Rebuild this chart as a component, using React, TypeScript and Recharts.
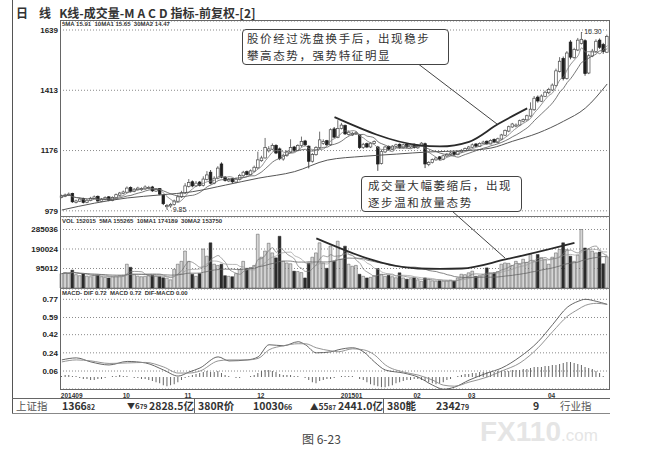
import React from 'react';
import { ComposedChart, Bar, Line, XAxis, YAxis, CartesianGrid, Cell, ReferenceDot } from 'recharts';

// daily bars, 2014-09 .. 2015-04 (prices in yuan)
const opens = [
  10.28, 10.32, 10.36, 10.42, 10.10, 10.14, 10.24, 10.10, 10.17, 10.24,
  10.32, 10.14, 10.21, 10.30, 10.17, 10.27, 10.36, 10.42, 10.47, 10.64,
  10.50, 10.56, 10.56, 10.59, 10.62, 10.66, 10.51, 10.60, 10.36, 9.94,
  9.97, 10.02, 10.14, 10.30, 10.44, 10.68, 10.85, 10.70, 10.84, 10.72,
  10.94, 11.20, 10.80, 10.98, 11.50, 11.02, 10.88, 10.96, 10.84, 10.94,
  11.07, 11.22, 11.11, 11.24, 11.36, 11.62, 11.72, 11.98, 12.04, 12.18,
  12.05, 11.68, 11.81, 11.94, 12.12, 11.99, 12.17, 12.34, 12.15, 11.60,
  11.84, 12.10, 12.25, 12.35, 12.20, 12.78, 12.47, 12.80, 12.90, 12.58,
  12.56, 12.60, 12.55, 12.10, 12.24, 12.12, 12.25, 12.12, 11.52, 11.94,
  12.14, 12.03, 12.14, 12.22, 12.09, 12.22, 12.12, 12.22, 12.09, 12.17,
  12.24, 11.48, 11.55, 11.65, 11.76, 11.67, 11.79, 11.85, 11.93, 11.84,
  11.94, 11.99, 12.05, 12.11, 12.23, 12.14, 12.24, 12.33, 12.23, 12.40,
  12.29, 12.41, 12.55, 12.70, 12.85, 12.88, 12.92, 13.06, 13.11, 13.25,
  13.48, 13.94, 13.79, 13.97, 14.10, 14.20, 14.36, 14.88, 15.35, 14.62,
  15.95, 15.38, 15.66, 15.90, 16.00, 14.82, 15.44, 15.60, 16.02, 15.86,
  15.58,
];
const highs = [
  10.38, 10.42, 10.46, 10.45, 10.20, 10.26, 10.27, 10.22, 10.30, 10.35,
  10.35, 10.26, 10.32, 10.33, 10.32, 10.42, 10.48, 10.53, 10.68, 10.68,
  10.62, 10.67, 10.65, 10.72, 10.70, 10.70, 10.62, 10.62, 10.40, 10.04,
  10.08, 10.20, 10.38, 10.52, 10.80, 10.95, 10.90, 10.88, 10.88, 11.05,
  11.24, 11.28, 11.05, 11.42, 11.56, 11.06, 10.99, 10.99, 11.00, 11.14,
  11.25, 11.26, 11.30, 11.44, 11.95, 11.80, 12.45, 12.15, 12.25, 12.22,
  12.10, 11.88, 12.00, 12.40, 12.16, 12.22, 12.50, 12.38, 12.18, 11.90,
  12.15, 12.68, 12.40, 12.38, 12.80, 12.85, 13.10, 13.00, 12.94, 12.72,
  12.68, 12.70, 12.58, 12.27, 12.28, 12.30, 12.36, 12.16, 12.00, 12.16,
  12.18, 12.19, 12.24, 12.25, 12.24, 12.25, 12.24, 12.25, 12.22, 12.30,
  12.28, 11.60, 11.70, 11.76, 11.79, 11.84, 11.90, 11.94, 11.96, 11.99,
  12.04, 12.10, 12.16, 12.25, 12.26, 12.29, 12.35, 12.36, 12.40, 12.43,
  12.46, 12.60, 12.76, 12.90, 13.00, 12.98, 13.12, 13.16, 13.30, 13.75,
  13.98, 14.00, 14.04, 14.18, 14.28, 14.44, 14.98, 15.40, 15.42, 15.62,
  16.02, 15.74, 16.10, 16.30, 16.05, 15.52, 15.70, 16.05, 16.08, 15.92,
  16.22,
];
const lows = [
  10.25, 10.29, 10.33, 10.08, 10.06, 10.11, 10.06, 10.07, 10.14, 10.21,
  10.12, 10.11, 10.18, 10.14, 10.14, 10.24, 10.33, 10.39, 10.44, 10.46,
  10.47, 10.53, 10.52, 10.56, 10.58, 10.48, 10.48, 10.36, 10.00, 9.85,
  9.90, 9.98, 10.10, 10.26, 10.40, 10.64, 10.65, 10.66, 10.68, 10.68,
  10.90, 10.76, 10.76, 10.94, 10.98, 10.86, 10.84, 10.80, 10.80, 10.90,
  11.03, 11.08, 11.08, 11.20, 11.32, 11.58, 11.70, 11.92, 12.00, 11.86,
  11.64, 11.62, 11.76, 11.90, 11.95, 11.96, 12.12, 12.16, 11.34, 11.55,
  11.80, 12.06, 12.20, 12.16, 12.16, 12.44, 12.44, 12.76, 12.56, 12.54,
  12.52, 12.56, 12.05, 12.05, 12.08, 12.08, 12.22, 11.25, 11.48, 11.90,
  12.00, 12.00, 12.10, 12.06, 12.06, 12.08, 12.08, 12.06, 12.05, 12.14,
  11.35, 11.42, 11.52, 11.62, 11.64, 11.64, 11.76, 11.82, 11.80, 11.82,
  11.91, 11.96, 12.02, 12.08, 12.12, 12.12, 12.22, 12.20, 12.22, 12.26,
  12.26, 12.38, 12.52, 12.66, 12.82, 12.84, 12.88, 13.02, 13.08, 13.22,
  13.44, 13.74, 13.76, 13.94, 14.05, 14.16, 14.32, 14.84, 14.55, 14.58,
  15.32, 15.34, 15.62, 15.86, 14.72, 14.78, 15.40, 15.56, 15.70, 15.52,
  15.55,
];
const closes = [
  10.33, 10.37, 10.40, 10.12, 10.15, 10.22, 10.10, 10.18, 10.25, 10.30,
  10.15, 10.22, 10.28, 10.18, 10.28, 10.38, 10.44, 10.48, 10.62, 10.50,
  10.58, 10.62, 10.60, 10.66, 10.64, 10.52, 10.58, 10.40, 10.05, 9.98,
  10.02, 10.15, 10.30, 10.45, 10.70, 10.82, 10.70, 10.80, 10.72, 10.95,
  11.10, 10.80, 10.98, 11.35, 11.02, 10.90, 10.94, 10.85, 10.95, 11.08,
  11.20, 11.12, 11.25, 11.38, 11.65, 11.72, 12.10, 12.05, 12.18, 11.90,
  11.70, 11.82, 11.95, 12.10, 12.00, 12.18, 12.32, 12.20, 11.60, 11.85,
  12.10, 12.38, 12.32, 12.20, 12.75, 12.48, 12.80, 12.92, 12.60, 12.66,
  12.62, 12.64, 12.10, 12.22, 12.12, 12.26, 12.32, 11.50, 11.95, 12.12,
  12.04, 12.15, 12.20, 12.10, 12.20, 12.12, 12.20, 12.10, 12.18, 12.26,
  11.50, 11.56, 11.66, 11.72, 11.68, 11.80, 11.86, 11.90, 11.85, 11.95,
  12.00, 12.06, 12.12, 12.20, 12.15, 12.25, 12.30, 12.24, 12.36, 12.30,
  12.42, 12.56, 12.72, 12.86, 12.96, 12.92, 13.08, 13.12, 13.26, 13.50,
  13.90, 13.80, 13.98, 14.12, 14.22, 14.38, 14.90, 15.25, 14.62, 15.55,
  15.40, 15.68, 16.02, 16.05, 14.80, 15.45, 15.62, 15.98, 15.76, 15.60,
  16.15,
];
const volumes = [
  70000, 75000, 72000, 87000, 65000, 60000, 69000, 58000, 55000, 62000,
  62000, 55000, 52000, 49000, 55000, 58000, 60000, 62000, 116000, 101000,
  65000, 58000, 55000, 57000, 60000, 62000, 58000, 55000, 50000, 48000,
  40000, 91000, 116000, 130000, 180000, 130000, 67000, 57000, 70000, 190000,
  155000, 220000, 116000, 110000, 116000, 60000, 57000, 55000, 70000, 91000,
  130000, 96000, 100000, 110000, 262000, 150000, 180000, 218000, 171000, 147000,
  252000, 130000, 122000, 118000, 82000, 80000, 75000, 49000, 122000, 150000,
  171000, 220000, 122000, 96000, 204000, 130000, 228000, 140000, 204000, 116000,
  106000, 110000, 67000, 57000, 49000, 52000, 60000, 95000, 67000, 57000,
  62000, 55000, 50000, 74000, 49000, 43000, 45000, 49000, 40000, 33000,
  49000, 43000, 35000, 33000, 35000, 33000, 35000, 38000, 33000, 49000,
  67000, 65000, 74000, 82000, 57000, 60000, 65000, 98000, 74000, 74000,
  80000, 116000, 122000, 120000, 110000, 130000, 115000, 140000, 125000, 163000,
  130000, 163000, 147000, 140000, 116000, 150000, 171000, 188000, 220000, 188000,
  155000, 130000, 160000, 285000, 195000, 190000, 180000, 171000, 175000, 118000,
  152015,
];
const macdHist = [
  0.01, 0.02, 0.02, 0.01, 0.01, -0.01, -0.02, -0.02, -0.03, -0.03,
  -0.02, -0.02, -0.01, 0.0, 0.01, 0.01, 0.02, 0.01, 0.01, 0.0,
  -0.01, -0.01, -0.02, -0.02, -0.03, -0.04, -0.05, -0.06, -0.08, -0.09,
  -0.08, -0.07, -0.05, -0.03, -0.01, 0.01, 0.02, 0.03, 0.04, 0.05,
  0.06, 0.05, 0.05, 0.06, 0.04, 0.02, 0.01, 0.0, -0.01, -0.01,
  0.0, 0.0, 0.01, 0.02, 0.04, 0.06, 0.07, 0.07, 0.06, 0.05,
  0.03, 0.02, 0.02, 0.02, 0.01, 0.01, 0.0, -0.01, -0.03, -0.05,
  -0.06, -0.04, -0.03, -0.02, -0.02, -0.01, 0.0, 0.01, 0.01, 0.01,
  0.01, 0.0, -0.02, -0.03, -0.05, -0.07, -0.08, -0.09, -0.10, -0.10,
  -0.09, -0.08, -0.06, -0.05, -0.04, -0.03, -0.03, -0.02, -0.02, -0.03,
  -0.04, -0.05, -0.06, -0.07, -0.06, -0.05, -0.03, -0.02, 0.0, 0.01,
  0.02, 0.03, 0.03, 0.04, 0.04, 0.05, 0.05, 0.05, 0.05, 0.05,
  0.06, 0.06, 0.06, 0.06, 0.07, 0.07, 0.07, 0.08, 0.08, 0.09,
  0.10, 0.10, 0.10, 0.11, 0.11, 0.12, 0.12, 0.13, 0.14, 0.15,
  0.15, 0.14, 0.13, 0.12, 0.10, 0.09, 0.08, 0.06, 0.04, 0.01,
  0.0,
];

// [bar index, value] readings for the smooth lines
const ma30Points = [
  [0, 9.82], [9, 10.07], [18, 10.26], [27, 10.37], [36, 10.49], [45, 10.73], [54, 10.98],
  [64, 11.22], [73, 11.64], [83, 11.78], [92, 11.86], [101, 11.94], [110, 11.98],
  [118, 12.08], [124, 12.33], [131, 12.63], [138, 13.06], [144, 13.54], [150, 14.42],
];
const difPoints = [
  [0, 0.17], [4, 0.19], [8, 0.15], [13, 0.12], [18, 0.155], [23, 0.14], [28, 0.07], [32, 0.01],
  [35, 0.05], [38, 0.09], [43, 0.2], [46, 0.16], [51, 0.17], [54, 0.2], [57, 0.32], [61, 0.31],
  [65, 0.35], [67, 0.32], [70, 0.24], [74, 0.25], [76, 0.27], [80, 0.29], [83, 0.25], [86, 0.15],
  [89, 0.07], [94, 0.04], [98, 0.0], [102, -0.08], [105, -0.12], [108, -0.1], [112, -0.03],
  [117, 0.04], [121, 0.09], [126, 0.2], [131, 0.35], [135, 0.52], [139, 0.69], [142, 0.75],
  [144, 0.77], [147, 0.75], [150, 0.72],
];
const deaPoints = [
  [0, 0.15], [4, 0.17], [8, 0.16], [13, 0.135], [18, 0.14], [23, 0.145], [28, 0.1], [32, 0.04],
  [35, 0.04], [38, 0.06], [43, 0.16], [46, 0.17], [51, 0.17], [54, 0.185], [57, 0.27], [61, 0.31],
  [65, 0.33], [67, 0.33], [70, 0.29], [74, 0.26], [76, 0.25], [80, 0.28], [83, 0.27], [86, 0.22],
  [89, 0.12], [94, 0.05], [98, 0.02], [102, -0.03], [105, -0.08], [108, -0.09], [112, -0.05],
  [117, 0.0], [121, 0.06], [126, 0.14], [131, 0.29], [135, 0.45], [139, 0.6], [142, 0.67],
  [144, 0.71], [147, 0.73], [150, 0.72],
];
// hand-drawn trend lines of the figure
const priceTrend = [[75, 13.21], [98, 12.19], [104, 12.14], [112, 12.31], [120, 12.96], [128, 13.53]];
const volTrend = [[70, 242000], [98, 95000], [104, 93000], [110, 95000], [122, 139000], [141, 220000]];

const monthStarts = [0, 17, 34, 54, 77, 97, 112, 134];
const monthLabels = ['201409', '10', '11', '12', '201501', '02', '03', '04'];

const priceTicks = [9.79, 11.99, 14.19, 16.39];
const priceLabels = ['979', '1176', '1413', '1639'];
const volTicks = [95012, 190024, 285036];
const macdTicks = [0.06, 0.24, 0.42, 0.59, 0.77];

const avg = (arr: number[], i: number, n: number) => {
  const from = Math.max(0, i - n + 1);
  let s = 0;
  for (let k = from; k <= i; k++) s += arr[k];
  return s / (i - from + 1);
};
const pick = (pts: number[][], i: number) => {
  const p = pts.find((q) => q[0] === i);
  return p ? p[1] : null;
};

const rows = closes.map((close, i) => ({
  idx: i,
  open: opens[i],
  high: highs[i],
  low: lows[i],
  close,
  range: [lows[i], highs[i]],
  down: close < opens[i],
  ma5: avg(closes, i, 5),
  ma10: avg(closes, i, 10),
  ma30: pick(ma30Points, i),
  ptrend: pick(priceTrend, i),
  vol: volumes[i],
  vma5: avg(volumes, i, 5),
  vma10: avg(volumes, i, 10),
  vma30: avg(volumes, i, 30),
  vtrend: pick(volTrend, i),
  hist: macdHist[i],
  dif: pick(difPoints, i),
  dea: pick(deaPoints, i),
}));

const W = 651;
const margin = { top: 0, right: 42, bottom: 0, left: 12 };
const numFont = 'Liberation Sans, Arial, sans-serif';
const axisTick = { fontSize: 8, fontWeight: 700, fill: '#222', fontFamily: numFont };
const cjk = '"Noto Sans CJK SC", "Noto Sans", sans-serif';

function Candle(props: any) {
  const { x, y, width, height, payload } = props;
  if (!payload || x == null) return null;
  const { open, close, high, low } = payload;
  const top = Math.min(y, y + height);
  const h = Math.abs(height);
  const span = high - low || 1;
  const py = (v: number) => top + ((high - v) / span) * h;
  const cx = x + width / 2;
  const down = close < open;
  const color = down ? '#1e1e1e' : '#4a4a4a';
  const bodyTop = py(Math.max(open, close));
  const bodyH = Math.max(py(Math.min(open, close)) - bodyTop, 0.8);
  return (
    <g>
      <line x1={cx} x2={cx} y1={top} y2={top + h} stroke={color} strokeWidth={0.8} />
      <rect x={x + 0.2} y={bodyTop} width={Math.max(width - 0.4, 1)} height={bodyH} fill={down ? '#1e1e1e' : '#fff'} stroke={color} strokeWidth={0.7} />
    </g>
  );
}

function MonthTick(props: any) {
  const { x, y, payload } = props;
  const k = monthStarts.indexOf(payload.value);
  if (k < 0) return null;
  return (
    <text x={x - 1} y={y + 7} fontSize={6.5} fontWeight={700} fill="#333" fontFamily={numFont}>
      {monthLabels[k]}
    </text>
  );
}

// small price note beside a marked high / low
const note = (text: string, dx: number, dy: number) => (p: any) => (
  <text x={p.viewBox.x + dx} y={p.viewBox.y + dy} fontSize={7} fill="#333" fontFamily={numFont}>
    {text}
  </text>
);

const small: React.CSSProperties = { fontSize: 7 };
const calloutText: React.CSSProperties = { fontSize: 11.5, lineHeight: '17px', height: 17, letterSpacing: 1.6, whiteSpace: 'nowrap' };

export default function App() {
  return (
    <div style={{ position: 'absolute', left: 0, top: 0, width: W, height: 459, background: '#fff', overflow: 'hidden', fontFamily: cjk, color: '#222' }}>
      {/* title */}
      <div style={{ position: 'absolute', left: 16, top: 4, fontSize: 12, fontWeight: 700, color: '#333', whiteSpace: 'pre' }}>
        日{'    '}线{'   '}K线-成交量-<span style={{ letterSpacing: 3 }}>MACD</span>指标-前复权-[2]
      </div>
      {/* left frame line */}
      <div style={{ position: 'absolute', left: 12, top: 0, width: 1, height: 413, background: '#555' }} />

      {/* price panel */}
      <div style={{ position: 'absolute', left: 0, top: 21 }}>
        <ComposedChart width={W} height={196} data={rows} margin={margin}>
          <CartesianGrid vertical={false} stroke="#8a8a8a" strokeDasharray="1 2" />
          <XAxis dataKey="idx" hide />
          <YAxis
            domain={[9.565, 16.7185]}
            ticks={priceTicks}
            interval={0}
            allowDataOverflow
            width={48}
            axisLine={false}
            tickLine={false}
            tickSize={0}
            tickMargin={2}
            tick={axisTick}
            tickFormatter={(v: number) => priceLabels[priceTicks.indexOf(v)] ?? ''}
          />
          <Bar dataKey="range" barSize={3} shape={Candle} isAnimationActive={false} />
          <Line dataKey="ma5" type="monotone" stroke="#777" strokeWidth={0.8} dot={false} isAnimationActive={false} />
          <Line dataKey="ma10" type="monotone" stroke="#555" strokeWidth={0.8} dot={false} isAnimationActive={false} />
          <Line dataKey="ma30" type="monotone" connectNulls stroke="#555" strokeWidth={1} dot={false} isAnimationActive={false} />
          <Line dataKey="ptrend" type="monotone" connectNulls stroke="#2a2a2a" strokeWidth={1.8} dot={false} isAnimationActive={false} />
          <ReferenceDot x={143} y={16.3} r={0.5} fill="#333" stroke="none" label={{ content: note('16.30', 3, 2) }} />
          <ReferenceDot x={29} y={9.85} r={0.5} fill="#333" stroke="none" label={{ content: note('9.85', 6, 3) }} />
        </ComposedChart>
      </div>

      {/* volume panel */}
      <div style={{ position: 'absolute', left: 0, top: 217 }}>
        <ComposedChart width={W} height={71} data={rows} margin={margin}>
          <CartesianGrid vertical={false} stroke="#8a8a8a" strokeDasharray="1 2" />
          <XAxis dataKey="idx" hide />
          <YAxis
            domain={[0, 345900]}
            ticks={volTicks}
            interval={0}
            allowDataOverflow
            width={48}
            axisLine={false}
            tickLine={false}
            tickSize={0}
            tickMargin={2}
            tick={axisTick}
          />
          <Bar dataKey="vol" barSize={2.8} isAnimationActive={false}>
            {rows.map((r) => (
              <Cell key={r.idx} fill={r.down ? '#2b2b2b' : '#d6d6d6'} stroke={r.down ? '#2b2b2b' : '#555'} strokeWidth={0.5} />
            ))}
          </Bar>
          <Line dataKey="vma5" type="monotone" stroke="#777" strokeWidth={0.7} dot={false} isAnimationActive={false} />
          <Line dataKey="vma10" type="monotone" stroke="#999" strokeWidth={0.7} dot={false} isAnimationActive={false} />
          <Line dataKey="vma30" type="monotone" stroke="#666" strokeWidth={0.8} dot={false} isAnimationActive={false} />
          <Line dataKey="vtrend" type="monotone" connectNulls stroke="#2a2a2a" strokeWidth={1.8} dot={false} isAnimationActive={false} />
        </ComposedChart>
      </div>

      {/* MACD panel */}
      <div style={{ position: 'absolute', left: 0, top: 289 }}>
        <ComposedChart width={W} height={112} data={rows} margin={margin}>
          <CartesianGrid vertical={false} stroke="#8a8a8a" strokeDasharray="1 2" />
          <XAxis dataKey="idx" ticks={monthStarts} interval={0} height={12} axisLine={false} tickLine={false} tickSize={0} tick={(p: any) => <MonthTick {...p} />} />
          <YAxis
            domain={[-0.118, 0.872]}
            ticks={macdTicks}
            interval={0}
            allowDataOverflow
            width={48}
            axisLine={false}
            tickLine={false}
            tickSize={0}
            tickMargin={2}
            tick={axisTick}
            tickFormatter={(v: number) => v.toFixed(2)}
          />
          <Bar dataKey="hist" barSize={1} fill="#666" isAnimationActive={false} />
          <Line dataKey="dif" type="monotone" connectNulls stroke="#555" strokeWidth={0.9} dot={false} isAnimationActive={false} />
          <Line dataKey="dea" type="monotone" connectNulls stroke="#888" strokeWidth={0.9} dot={false} isAnimationActive={false} />
        </ComposedChart>
      </div>

      {/* panel frame */}
      <div style={{ position: 'absolute', left: 60, top: 20, width: 548, height: 368, border: '1px solid #666' }} />
      <div style={{ position: 'absolute', left: 60, top: 216, width: 550, height: 1, background: '#777' }} />
      <div style={{ position: 'absolute', left: 60, top: 288, width: 550, height: 1, background: '#777' }} />

      {/* panel headers */}
      <div style={{ position: 'absolute', left: 62, top: 21, fontSize: 6, fontWeight: 700, fontFamily: numFont, whiteSpace: 'pre', color: '#333' }}>
        5MA 15.91  10MA1 15.65  30MA2 14.47
      </div>
      <div style={{ position: 'absolute', left: 62, top: 218, fontSize: 6, fontWeight: 700, fontFamily: numFont, whiteSpace: 'pre', color: '#333' }}>
        VOL 152015  5MA 155265  10MA1 174189  30MA2 153750
      </div>
      <div style={{ position: 'absolute', left: 62, top: 290, fontSize: 6, fontWeight: 700, fontFamily: numFont, whiteSpace: 'pre', color: '#333' }}>
        MACD- DIF 0.72  MACD 0.72  DIF-MACD 0.00
      </div>

      {/* leader lines */}
      <svg width={W} height={459} style={{ position: 'absolute', left: 0, top: 0, pointerEvents: 'none' }}>
        <line x1={417} y1={63} x2={497} y2={124} stroke="#444" strokeWidth={1} />
        <line x1={452} y1={211} x2={505} y2={258} stroke="#444" strokeWidth={1} />
      </svg>

      {/* callouts */}
      <div style={{ position: 'absolute', left: 242, top: 29, width: 201, height: 34, border: '1.5px solid #444', borderRadius: 4, background: '#fff', padding: '0 0 0 4px', color: '#333' }}>
        <div style={calloutText}>股价经过洗盘换手后，出现稳步</div>
        <div style={calloutText}>攀高态势，强势特征明显</div>
      </div>
      <div style={{ position: 'absolute', left: 361, top: 176, width: 153, height: 34, border: '1.5px solid #444', borderRadius: 4, background: '#fff', padding: '0 0 0 6px', color: '#333' }}>
        <div style={calloutText}>成交量大幅萎缩后，出现</div>
        <div style={calloutText}>逐步温和放量态势</div>
      </div>

      {/* status bar */}
      <div style={{ position: 'absolute', left: 12, top: 398, width: 598, height: 1, background: '#666' }} />
      <div style={{ position: 'absolute', left: 12, top: 413, width: 598, height: 1, background: '#888' }} />
      <div style={{ position: 'absolute', left: 194, top: 399, width: 1, height: 14, background: '#666' }} />
      <div style={{ position: 'absolute', left: 383, top: 399, width: 1, height: 14, background: '#666' }} />
      <div style={{ position: 'absolute', left: 0, top: 399, width: W, height: 14, fontSize: 10.5, fontWeight: 700, lineHeight: '14px', color: '#333', whiteSpace: 'nowrap' }}>
        <span style={{ position: 'absolute', left: 16, fontWeight: 400, color: '#555' }}>上证指</span>
        <span style={{ position: 'absolute', left: 62 }}>1366<span style={small}>82</span></span>
        <span style={{ position: 'absolute', left: 127, fontSize: 8 }}>▼6<span style={{ fontSize: 6.5 }}>79</span></span>
        <span style={{ position: 'absolute', left: 149 }}>2828.5亿</span>
        <span style={{ position: 'absolute', left: 198 }}>380R价</span>
        <span style={{ position: 'absolute', left: 253 }}>10030<span style={small}>66</span></span>
        <span style={{ position: 'absolute', left: 310, fontSize: 8.5 }}>▲55<span style={{ fontSize: 6.5 }}>87</span></span>
        <span style={{ position: 'absolute', left: 338 }}>2441.0亿</span>
        <span style={{ position: 'absolute', left: 387 }}>380能</span>
        <span style={{ position: 'absolute', left: 436 }}>2342<span style={small}>79</span></span>
        <span style={{ position: 'absolute', left: 533 }}>9</span>
        <span style={{ position: 'absolute', left: 560, fontWeight: 400, color: '#555' }}>行业指</span>
      </div>

      {/* watermark */}
      <div style={{ position: 'absolute', left: 480, top: 417, fontSize: 28, lineHeight: '30px', fontWeight: 700, color: 'rgba(226,226,226,0.9)', fontFamily: numFont, whiteSpace: 'nowrap' }}>
        FX110<span style={{ fontSize: 17, fontWeight: 400 }}>.com</span>
      </div>

      {/* caption */}
      <div style={{ position: 'absolute', left: 302, top: 430, fontSize: 12, color: '#444' }}>图 6-23</div>
    </div>
  );
}
